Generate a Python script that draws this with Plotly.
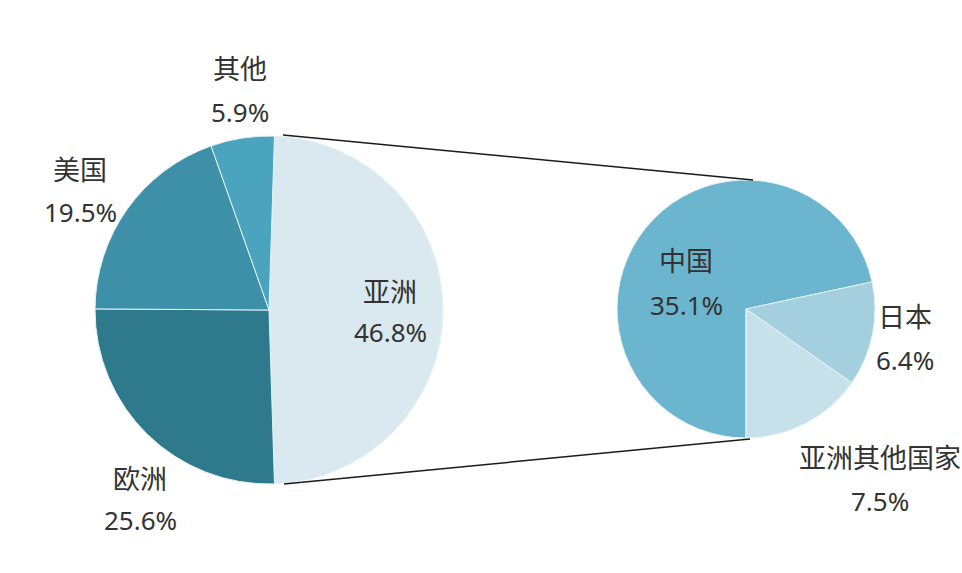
import plotly.graph_objects as go

# ---- data ----
main_labels = ["亚洲", "欧洲", "美国", "其他"]
main_pct = [46.8, 25.6, 19.5, 5.9]          # values as printed on the chart
sub_labels = ["中国", "日本", "亚洲其他国家"]
sub_pct = [35.1, 6.4, 7.5]

main_colors = ["#dae8ef", "#2f798c", "#3d90a7", "#4aa4be"]
sub_colors = ["#6cb5cf", "#a4cfdf", "#c6e1ea"]

W, H = 962, 573

def px(x):
    return x / W

def py(y):
    return 1 - y / H

# the "亚洲" slice of the main pie is drawn as the sum of the secondary pie
main_values = [sum(sub_pct)] + main_pct[1:]
main_total = sum(main_values)
main_rotation = 90 - 180 * main_values[0] / main_total  # centre Asia on the right side

# pie geometry (pixels)
L_cx, L_cy, L_r = 269, 310, 174
R_cx, R_cy, R_r = 746, 309, 129

fig = go.Figure()
fig.add_trace(go.Pie(
    labels=main_labels, values=main_values, sort=False, direction="clockwise",
    rotation=main_rotation, textinfo="none", hoverinfo="skip",
    marker=dict(colors=main_colors, line=dict(color="#e4f2f7", width=1)),
    domain=dict(x=[px(L_cx - L_r), px(L_cx + L_r)], y=[py(L_cy + L_r), py(L_cy - L_r)]),
    showlegend=False,
))
fig.add_trace(go.Pie(
    labels=sub_labels, values=sub_pct, sort=False, direction="clockwise",
    rotation=180, textinfo="none", hoverinfo="skip",
    marker=dict(colors=sub_colors, line=dict(color="#e4f2f7", width=1)),
    domain=dict(x=[px(R_cx - R_r), px(R_cx + R_r)], y=[py(R_cy + R_r), py(R_cy - R_r)]),
    showlegend=False,
))

# connector lines
shapes = [
    dict(type="line", xref="paper", yref="paper", x0=px(283), y0=py(135), x1=px(753), y1=py(180),
         line=dict(color="#1a1a1a", width=1.5)),
    dict(type="line", xref="paper", yref="paper", x0=px(284), y0=py(484), x1=px(750), y1=py(439),
         line=dict(color="#1a1a1a", width=1.5)),
]

# label positions (pixel centres of name line and percent line)
main_label_pos = [(390, 290, 332), (140, 477, 520), (80, 168, 212), (240, 68, 112)]
sub_label_pos = [(686, 259, 305), (905, 315, 360), (880, 456, 501)]

name_font = dict(family="Noto Sans CJK SC, Noto Sans, sans-serif", size=27, color="#333333")
num_font = dict(family="Noto Sans, Noto Sans CJK SC, sans-serif", size=26, color="#333333")
annotations = []
for labs, vals, poss in ((main_labels, main_pct, main_label_pos), (sub_labels, sub_pct, sub_label_pos)):
    for lab, val, (x, y1, y2) in zip(labs, vals, poss):
        annotations.append(dict(x=px(x), y=py(y1), xref="paper", yref="paper", text=lab,
                                showarrow=False, font=name_font, xanchor="center", yanchor="middle"))
        annotations.append(dict(x=px(x), y=py(y2), xref="paper", yref="paper", text=f"{val}%",
                                showarrow=False, font=num_font, xanchor="center", yanchor="middle"))

fig.update_layout(
    width=W, height=H, margin=dict(l=0, r=0, t=0, b=0),
    paper_bgcolor="white", plot_bgcolor="white",
    shapes=shapes, annotations=annotations,
)

fig.write_html("out.html", config={"displayModeBar": False},
               post_script="document.body.style.margin='0';")
